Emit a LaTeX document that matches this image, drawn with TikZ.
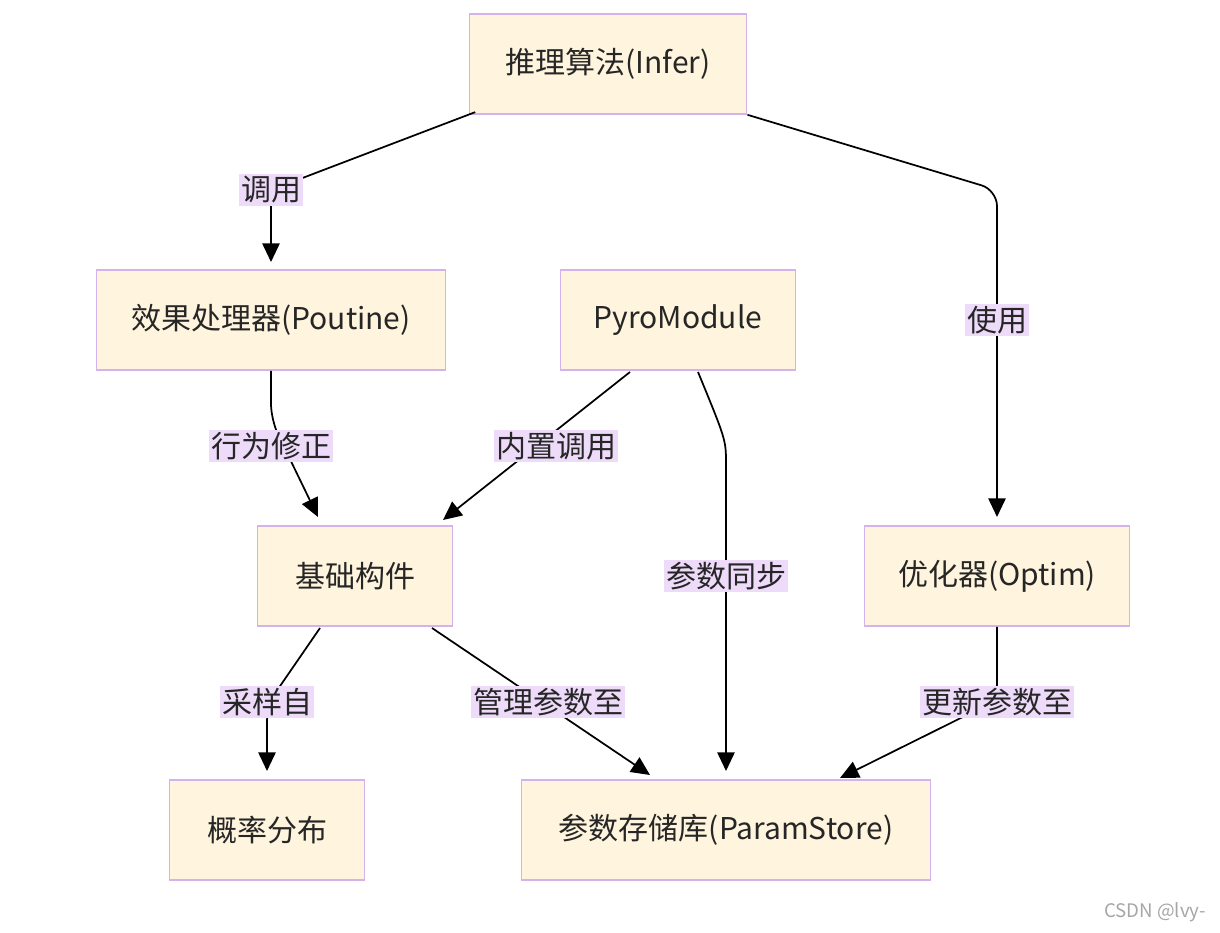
\documentclass[tikz,border=0pt]{standalone}
\usepackage{fontspec}
\setmainfont{Noto Sans CJK SC}
\usetikzlibrary{arrows.meta}
\definecolor{boxfill}{HTML}{FFF4DD}
\definecolor{boxline}{HTML}{D4B2EC}
\definecolor{lblfill}{HTML}{EEDBFA}
\begin{document}
\begin{tikzpicture}[x=0.75pt,y=-0.75pt,
  box/.style={draw=boxline,fill=boxfill,line width=1.2pt,minimum height=75pt,inner sep=0pt,font=\fontsize{22.5}{26}\selectfont,text=black!85},
  lbl/.style={fill=lblfill,inner sep=1.5pt,font=\fontsize{22.5}{26}\selectfont,text=black!85},
  arr/.style={line width=1.3pt,-{Triangle[length=14pt,width=13pt]},rounded corners=12pt}]
\useasboundingbox (0,0) rectangle (1220,932);
\node[box,minimum width=208pt] (inf) at (608,64) {推理算法(Infer)};
\node[box,minimum width=262pt] (pou) at (271,320) {效果处理器(Poutine)};
\node[box,minimum width=176pt] (pyr) at (678,320) {PyroModule};
\node[box,minimum width=146pt] (bas) at (355,576) {基础构件};
\node[box,minimum width=199pt] (opt) at (997,576) {优化器(Optim)};
\node[box,minimum width=146pt] (dis) at (267,830) {概率分布};
\node[box,minimum width=307pt] (ps) at (726,830) {参数存储库(ParamStore)};
\coordinate (a1) at (271,262);
\coordinate (a2) at (997,517);
\coordinate (a3) at (318,517);
\coordinate (a4) at (443,520);
\coordinate (a5) at (726,771);
\coordinate (a6) at (267,771);
\coordinate (a7) at (650,775);
\coordinate (a8) at (840,778);
\draw[arr] (inf.south west) ++(5pt,2pt) -- (271,190) -- (a1);
\draw[arr] (inf.south east) -- (997,190) -- (a2);
\draw[arr] (pou.south) -- (271,420) -- (a3);
\draw[arr] (630,372) -- (a4);
\draw[arr] (698,372) .. controls (726,440) .. (726,480) -- (a5);
\draw[arr] (320,628) -- (267,705) -- (a6);
\draw[arr] (432,628) -- (a7);
\draw[arr] (opt.south) -- (997,700) -- (a8);
\node[lbl] (l1) at (271,190) {调用};
\node[lbl] (l2) at (997,320) {使用};
\node[lbl] (l3) at (271,446) {行为修正};
\node[lbl] (l4) at (556,446) {内置调用};
\node[lbl] (l5) at (726,576) {参数同步};
\node[lbl] (l6) at (267,702) {采样自};
\node[lbl] (l7) at (548,702) {管理参数至};
\node[lbl] (l8) at (997,702) {更新参数至};
\node[text=black!35,font=\fontsize{14}{16}\selectfont] (wm) at (1155,912) {CSDN @lvy-};
\end{tikzpicture}
\end{document}
